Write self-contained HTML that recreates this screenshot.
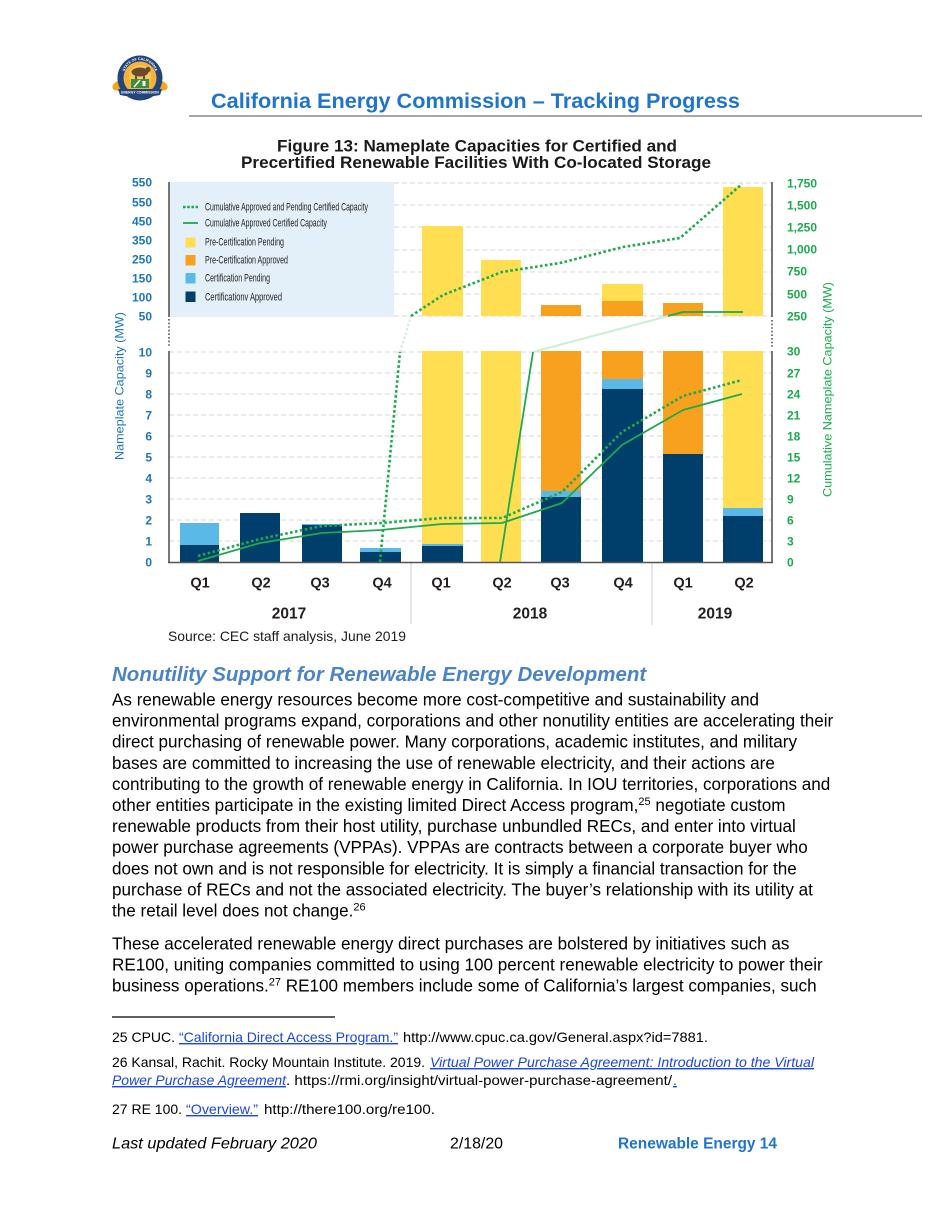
<!DOCTYPE html>
<html>
<head>
<meta charset="utf-8">
<style>
html,body{margin:0;padding:0;background:#fff;}
svg{display:block;}
text{font-family:"Liberation Sans",Arial,sans-serif;}
</style>
</head>
<body>
<svg width="950" height="1230" viewBox="0 0 950 1230" xmlns="http://www.w3.org/2000/svg">
<rect x="0" y="0" width="950" height="1230" fill="#ffffff"/>

<!-- ===== Logo ===== -->
<g>
  <ellipse cx="121" cy="85" rx="9" ry="5" fill="#f2a51e" transform="rotate(-20 121 85)"/>
  <ellipse cx="159" cy="85" rx="9" ry="5" fill="#f2a51e" transform="rotate(20 159 85)"/>
  <circle cx="140" cy="78" r="22.5" fill="#22457c"/>
  <circle cx="140" cy="78" r="16.5" fill="#f6b23a"/>
  <circle cx="140" cy="76" r="11" fill="#f9c85a"/>
  <ellipse cx="140" cy="72" rx="8.5" ry="4.5" fill="#6b4a2c"/>
  <circle cx="148" cy="69.5" r="2.6" fill="#6b4a2c"/>
  <rect x="135" y="75" width="2" height="4" fill="#6b4a2c"/>
  <rect x="143" y="75" width="2" height="4" fill="#6b4a2c"/>
  <rect x="131" y="79" width="18" height="9" fill="#3d8f3f"/>
  <line x1="134" y1="87" x2="140" y2="80" stroke="#ffffff" stroke-width="1.4"/>
  <rect x="142.5" y="81" width="3" height="5" fill="#ffffff"/>
  <path d="M118 89 L162 89 L160 95 Q140 99 120 95 Z" fill="#22457c"/>
  <text x="140" y="93.6" font-size="3.4" fill="#ffffff" text-anchor="middle" font-weight="bold">ENERGY COMMISSION</text>
  <path id="arcTop" d="M124 76 A16 16 0 0 1 156 76" fill="none"/>
  <text font-size="3.6" fill="#ffffff" font-weight="bold"><textPath href="#arcTop" startOffset="50%" text-anchor="middle">STATE OF CALIFORNIA</textPath></text>
</g>

<!-- ===== Header ===== -->
<text x="211" y="108" font-size="21.5" font-weight="bold" fill="#1f74cc" textLength="529" lengthAdjust="spacingAndGlyphs">California Energy Commission – Tracking Progress</text>
<line x1="189" y1="116" x2="922" y2="116" stroke="#8a8a8a" stroke-width="1.5"/>

<!-- ===== Chart title ===== -->
<text x="277" y="151.5" font-size="17" font-weight="bold" fill="#1a1a1a" textLength="400" lengthAdjust="spacingAndGlyphs">Figure 13: Nameplate Capacities for Certified and</text>
<text x="241" y="168" font-size="17" font-weight="bold" fill="#1a1a1a" textLength="470" lengthAdjust="spacingAndGlyphs">Precertified Renewable Facilities With Co-located Storage</text>

<!-- ===== Chart ===== -->
<g stroke="#d6d6d6" stroke-width="1" stroke-dasharray="5 3">
  <line x1="169" y1="352" x2="772" y2="352"/>
  <line x1="169" y1="373" x2="772" y2="373"/>
  <line x1="169" y1="394" x2="772" y2="394"/>
  <line x1="169" y1="415" x2="772" y2="415"/>
  <line x1="169" y1="436" x2="772" y2="436"/>
  <line x1="169" y1="457" x2="772" y2="457"/>
  <line x1="169" y1="478" x2="772" y2="478"/>
  <line x1="169" y1="499" x2="772" y2="499"/>
  <line x1="169" y1="520" x2="772" y2="520"/>
  <line x1="169" y1="541" x2="772" y2="541"/>
  <line x1="394" y1="183" x2="772" y2="183"/>
  <line x1="394" y1="205" x2="772" y2="205"/>
  <line x1="394" y1="227" x2="772" y2="227"/>
  <line x1="394" y1="250" x2="772" y2="250"/>
  <line x1="394" y1="272" x2="772" y2="272"/>
  <line x1="394" y1="294" x2="772" y2="294"/>
  <line x1="394" y1="316" x2="772" y2="316"/>
</g>

<rect x="169" y="182" width="225" height="135" fill="#e3f0f9"/>

<g>
  <rect x="180" y="523" width="39" height="22" fill="#5ab9e6"/>
  <rect x="180" y="545" width="39" height="17" fill="#003e6b"/>
  <rect x="240" y="513" width="40" height="49" fill="#003e6b"/>
  <rect x="302" y="524" width="40" height="1.5" fill="#5ab9e6"/>
  <rect x="302" y="525" width="40" height="37" fill="#003e6b"/>
  <rect x="360" y="548" width="41" height="4" fill="#5ab9e6"/>
  <rect x="360" y="552" width="41" height="10" fill="#003e6b"/>
  <rect x="422" y="351" width="41" height="193" fill="#ffde52"/>
  <rect x="422" y="544" width="41" height="2" fill="#5ab9e6"/>
  <rect x="422" y="546" width="41" height="16" fill="#003e6b"/>
  <rect x="481" y="351" width="40" height="211" fill="#ffde52"/>
  <rect x="541" y="351" width="40" height="140" fill="#f7a11e"/>
  <rect x="541" y="491" width="40" height="6" fill="#5ab9e6"/>
  <rect x="541" y="497" width="40" height="65" fill="#003e6b"/>
  <rect x="602" y="351" width="41" height="28" fill="#f7a11e"/>
  <rect x="602" y="379" width="41" height="10" fill="#5ab9e6"/>
  <rect x="602" y="389" width="41" height="173" fill="#003e6b"/>
  <rect x="663" y="351" width="40" height="103" fill="#f7a11e"/>
  <rect x="663" y="454" width="40" height="108" fill="#003e6b"/>
  <rect x="723" y="351" width="40" height="157" fill="#ffde52"/>
  <rect x="723" y="508" width="40" height="8" fill="#5ab9e6"/>
  <rect x="723" y="516" width="40" height="46" fill="#003e6b"/>
</g>

<g>
  <rect x="422" y="226" width="41" height="90" fill="#ffde52"/>
  <rect x="481" y="260" width="40" height="56" fill="#ffde52"/>
  <rect x="541" y="305" width="40" height="11" fill="#f7a11e"/>
  <rect x="602" y="284" width="41" height="17" fill="#ffde52"/>
  <rect x="602" y="301" width="41" height="15" fill="#f7a11e"/>
  <rect x="663" y="303" width="40" height="13" fill="#f7a11e"/>
  <rect x="723" y="187" width="40" height="129" fill="#ffde52"/>
</g>

<line x1="411" y1="562" x2="411" y2="624" stroke="#cccccc" stroke-width="1"/>
<line x1="652" y1="562" x2="652" y2="625" stroke="#cccccc" stroke-width="1"/>

<g stroke="#555555" stroke-width="1.6" fill="none">
  <line x1="169" y1="182" x2="169" y2="317"/>
  <line x1="169" y1="351" x2="169" y2="563"/>
  <line x1="168" y1="562.5" x2="773" y2="562.5"/>
  <line x1="772" y1="182" x2="772" y2="317"/>
  <line x1="772" y1="351" x2="772" y2="563"/>
</g>
<g stroke="#555555" stroke-width="1.6" stroke-dasharray="1.6 2" fill="none">
  <line x1="169" y1="319" x2="169" y2="347"/>
  <line x1="772" y1="320" x2="772" y2="347"/>
</g>

<g fill="none" stroke="#cbeed6" stroke-width="2">
  <polyline points="400,352 411,316" stroke-dasharray="2.5 2"/>
  <polyline points="533,352 668,316"/>
</g>

<g fill="none" stroke="#1daa4e" stroke-width="1.8" stroke-linejoin="round">
  <polyline points="198,561 260,543 322,533 381,530 442,524 502,523 562,503 622,445 683,410 742,394"/>
  <polyline points="500,562 533,352"/>
  <polyline points="668,316 683,312 743,312"/>
</g>

<g fill="none" stroke="#1daa4e" stroke-width="2.6" stroke-dasharray="2.6 2.4">
  <polyline points="198,556 260,539 322,526 381,523 442,518 502,518 562,492 622,432 683,396 742,380"/>
  <polyline points="380,562 400,352"/>
  <polyline points="411,316 443,295 502,272 560,263 623,247 680,238 742,184"/>
</g>

<g>
  <line x1="183" y1="207" x2="198" y2="207" stroke="#1daa4e" stroke-width="2.6" stroke-dasharray="2.6 1.6"/>
  <text x="205" y="210.5" font-size="11" fill="#231f20" textLength="163" lengthAdjust="spacingAndGlyphs">Cumulative Approved and Pending Certified Capacity</text>
  <line x1="183" y1="223" x2="198" y2="223" stroke="#1daa4e" stroke-width="1.8"/>
  <text x="205" y="226.5" font-size="11" fill="#231f20" textLength="122" lengthAdjust="spacingAndGlyphs">Cumulative Approved Certified Capacity</text>
  <rect x="185.5" y="237.5" width="10" height="10" fill="#ffde52"/>
  <text x="205" y="245.5" font-size="11" fill="#231f20" textLength="79" lengthAdjust="spacingAndGlyphs">Pre-Certification Pending</text>
  <rect x="185.5" y="255" width="10" height="10.5" fill="#f7a11e"/>
  <text x="205" y="263.5" font-size="11" fill="#231f20" textLength="83" lengthAdjust="spacingAndGlyphs">Pre-Certification Approved</text>
  <rect x="185.5" y="273" width="10" height="10.5" fill="#5ab9e6"/>
  <text x="205" y="281.5" font-size="11" fill="#231f20" textLength="65" lengthAdjust="spacingAndGlyphs">Certification Pending</text>
  <rect x="185.5" y="291.5" width="10" height="10.5" fill="#003e6b"/>
  <text x="205" y="300.5" font-size="11" fill="#231f20" textLength="77" lengthAdjust="spacingAndGlyphs">Certificationv Approved</text>
</g>

<g font-size="12" font-weight="bold" fill="#1c75bc" text-anchor="end">
  <text x="152" y="186.3">550</text>
  <text x="152" y="206.3">550</text>
  <text x="152" y="225.3">450</text>
  <text x="152" y="244.3">350</text>
  <text x="152" y="263.3">250</text>
  <text x="152" y="282.3">150</text>
  <text x="152" y="301.3">100</text>
  <text x="152" y="320.3">50</text>
  <text x="152" y="356.3">10</text>
  <text x="152" y="377.3">9</text>
  <text x="152" y="398.3">8</text>
  <text x="152" y="419.3">7</text>
  <text x="152" y="440.3">6</text>
  <text x="152" y="461.3">5</text>
  <text x="152" y="482.3">4</text>
  <text x="152" y="503.3">3</text>
  <text x="152" y="524.3">2</text>
  <text x="152" y="545.3">1</text>
  <text x="152" y="566.3">0</text>
</g>

<g font-size="12" font-weight="bold" fill="#1aab4b">
  <text x="787" y="187.3">1,750</text>
  <text x="787" y="209.3">1,500</text>
  <text x="787" y="231.3">1,250</text>
  <text x="787" y="253.3">1,000</text>
  <text x="787" y="275.3">750</text>
  <text x="787" y="298.3">500</text>
  <text x="787" y="320.3">250</text>
  <text x="787" y="355.3">30</text>
  <text x="787" y="377.3">27</text>
  <text x="787" y="398.3">24</text>
  <text x="787" y="419.3">21</text>
  <text x="787" y="440.3">18</text>
  <text x="787" y="461.3">15</text>
  <text x="787" y="482.3">12</text>
  <text x="787" y="503.3">9</text>
  <text x="787" y="524.3">6</text>
  <text x="787" y="545.3">3</text>
  <text x="787" y="566.3">0</text>
</g>

<text transform="translate(123.5,386) rotate(-90)" text-anchor="middle" font-size="12" fill="#1c75bc" textLength="148" lengthAdjust="spacingAndGlyphs">Nameplate Capacity (MW)</text>
<text transform="translate(831.5,389.5) rotate(-90)" text-anchor="middle" font-size="12" fill="#1aab4b" textLength="215" lengthAdjust="spacingAndGlyphs">Cumulative Nameplate Capacity (MW)</text>

<g font-size="14.5" font-weight="bold" fill="#231f20" text-anchor="middle">
  <text x="200" y="587.5">Q1</text>
  <text x="261" y="587.5">Q2</text>
  <text x="320" y="587.5">Q3</text>
  <text x="382" y="587.5">Q4</text>
  <text x="441" y="587.5">Q1</text>
  <text x="502" y="587.5">Q2</text>
  <text x="560" y="587.5">Q3</text>
  <text x="623" y="587.5">Q4</text>
  <text x="683" y="587.5">Q1</text>
  <text x="744" y="587.5">Q2</text>
</g>
<g font-size="15.5" font-weight="bold" fill="#231f20" text-anchor="middle">
  <text x="289" y="618.5">2017</text>
  <text x="530" y="618.5">2018</text>
  <text x="715" y="618.5">2019</text>
</g>

<text x="168" y="641" font-size="14" fill="#1a1a1a" textLength="238" lengthAdjust="spacingAndGlyphs">Source: CEC staff analysis, June 2019</text>

<text x="112" y="681" font-size="20.5" font-weight="bold" font-style="italic" fill="#4a84c6">Nonutility Support for Renewable Energy Development</text>

<g font-size="17.1" fill="#000000">
  <text x="112" y="705.5">As renewable energy resources become more cost-competitive and sustainability and</text>
  <text x="112" y="726.6">environmental programs expand, corporations and other nonutility entities are accelerating their</text>
  <text x="112" y="747.7">direct purchasing of renewable power. Many corporations, academic institutes, and military</text>
  <text x="112" y="768.8">bases are committed to increasing the use of renewable electricity, and their actions are</text>
  <text x="112" y="789.9">contributing to the growth of renewable energy in California. In IOU territories, corporations and</text>
  <text x="112" y="811">other entities participate in the existing limited Direct Access program,<tspan font-size="11" dy="-6">25</tspan><tspan dy="6"> negotiate custom</tspan></text>
  <text x="112" y="832.1">renewable products from their host utility, purchase unbundled RECs, and enter into virtual</text>
  <text x="112" y="853.2">power purchase agreements (VPPAs). VPPAs are contracts between a corporate buyer who</text>
  <text x="112" y="874.3">does not own and is not responsible for electricity. It is simply a financial transaction for the</text>
  <text x="112" y="895.4">purchase of RECs and not the associated electricity. The buyer’s relationship with its utility at</text>
  <text x="112" y="916.5">the retail level does not change.<tspan font-size="11" dy="-6">26</tspan></text>
  <text x="112" y="949.5">These accelerated renewable energy direct purchases are bolstered by initiatives such as</text>
  <text x="112" y="970.6">RE100, uniting companies committed to using 100 percent renewable electricity to power their</text>
  <text x="112" y="991.7">business operations.<tspan font-size="11" dy="-6">27</tspan><tspan dy="6"> RE100 members include some of California’s largest companies, such</tspan></text>
</g>

<line x1="112" y1="1017" x2="335" y2="1017" stroke="#000000" stroke-width="1.3"/>
<g font-size="14" fill="#000000">
  <text x="112" y="1042">25 CPUC.</text>
  <text x="179" y="1042" fill="#1b45e6" text-decoration="underline" textLength="219" lengthAdjust="spacingAndGlyphs">“California Direct Access Program.”</text>
  <text x="403" y="1042" textLength="305" lengthAdjust="spacingAndGlyphs">http://www.cpuc.ca.gov/General.aspx?id=7881.</text>

  <text x="112" y="1067" textLength="313" lengthAdjust="spacingAndGlyphs">26 Kansal, Rachit. Rocky Mountain Institute. 2019.</text>
  <text x="430" y="1067" fill="#1b45e6" font-style="italic" text-decoration="underline" textLength="384" lengthAdjust="spacingAndGlyphs">Virtual Power Purchase Agreement: Introduction to the Virtual</text>
  <text x="112" y="1085" fill="#1b45e6" font-style="italic" text-decoration="underline" textLength="174" lengthAdjust="spacingAndGlyphs">Power Purchase Agreement</text>
  <text x="286" y="1085" textLength="386" lengthAdjust="spacingAndGlyphs">. https://rmi.org/insight/virtual-power-purchase-agreement/</text>
  <text x="673" y="1085" fill="#1b45e6" text-decoration="underline">.</text>

  <text x="112" y="1114">27 RE 100.</text>
  <text x="186" y="1114" fill="#1b45e6" text-decoration="underline" textLength="72" lengthAdjust="spacingAndGlyphs">“Overview.”</text>
  <text x="264" y="1114" textLength="171" lengthAdjust="spacingAndGlyphs">http://there100.org/re100.</text>
</g>

<text x="112" y="1148.5" font-size="16" font-style="italic" fill="#000000" textLength="205" lengthAdjust="spacingAndGlyphs">Last updated February 2020</text>
<text x="450" y="1148.5" font-size="16" fill="#000000" textLength="53" lengthAdjust="spacingAndGlyphs">2/18/20</text>
<text x="618" y="1148.5" font-size="15.5" font-weight="bold" fill="#1f74cc" textLength="159" lengthAdjust="spacingAndGlyphs">Renewable Energy 14</text>
</svg>
</body>
</html>
